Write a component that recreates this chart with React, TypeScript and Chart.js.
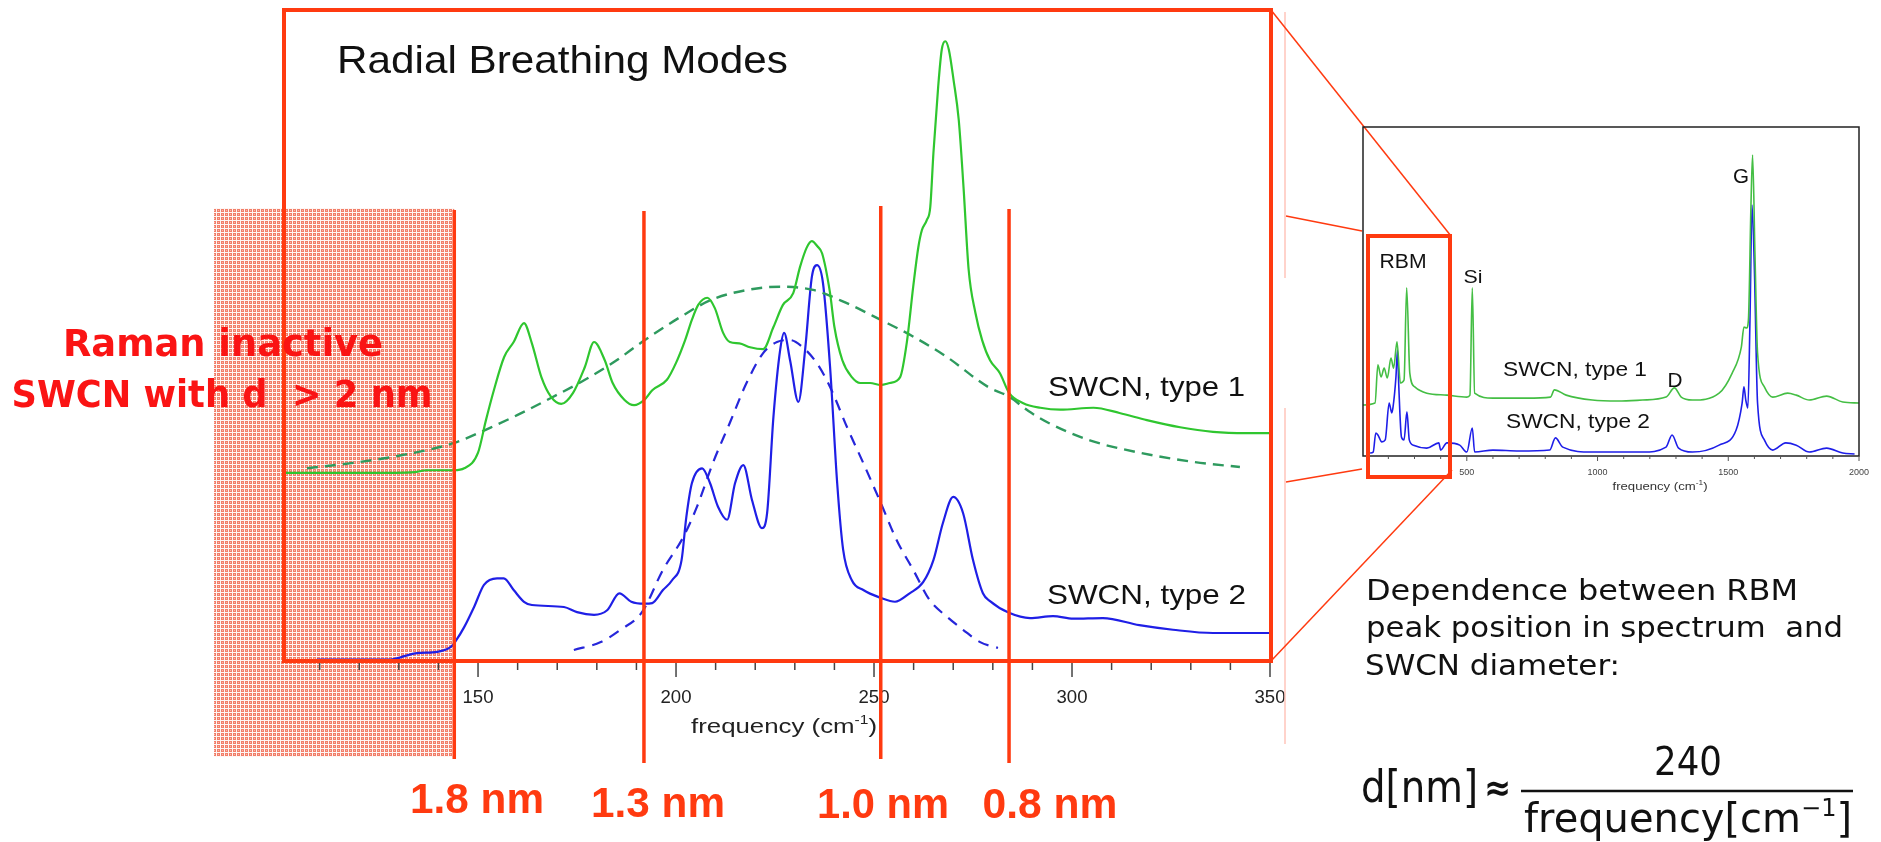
import React, { useEffect, useRef } from "react";
import { Chart, registerables } from "chart.js";

Chart.register(...registerables);

const CANVAS_W = 1881;
const CANVAS_H = 842;

// ---------------- Main panel: Radial Breathing Modes (cm^-1 vs a.u.) ----------------
const rbmType1Freq = [101, 110, 120, 129, 134, 137, 144, 146.5, 150, 152, 154, 156.6, 159, 161.6, 163.6, 166, 168.4, 171, 174, 177, 179.3, 182, 184, 187, 189.4, 192, 194, 197.7, 200, 202.3, 204, 205.6, 207.9, 209.8, 211.9, 213.6, 216, 218.7, 222, 224.6, 227, 229.6, 231.3, 233, 234.3, 235.7, 236.9, 238.9, 240, 242, 244.4, 246.5, 249, 251.7, 254, 256.6, 258.3, 259.9, 261.2, 262.1, 263.3, 264.2, 265, 266.2, 267.1, 268, 268.9, 270.1, 271.4, 272.6, 273.9, 275.6, 277.3, 279.3, 281.8, 284.1, 287.7, 292, 297, 305.4, 312, 318.9, 327.3, 335.6, 344, 350];
const rbmType1Int = [28.9, 28.9, 28.9, 28.9, 29.0, 29.3, 29.3, 29.6, 32.0, 37.0, 41.6, 46.7, 49.0, 51.9, 48.8, 43.6, 40.6, 39.5, 41.2, 45.2, 49.0, 46.2, 42.7, 40.1, 39.3, 40.1, 41.6, 43.2, 45.8, 49.3, 52.4, 54.7, 55.8, 54.2, 50.4, 49.0, 48.8, 48.2, 47.9, 51.3, 54.7, 56.5, 60.5, 63.5, 64.5, 63.7, 62.6, 56.5, 51.3, 46.2, 43.6, 42.7, 42.7, 42.4, 42.7, 43.6, 49.0, 57.5, 63.6, 66.2, 67.7, 69.7, 78.0, 88.2, 93.9, 95.2, 93.9, 89.2, 83.1, 72.8, 60.1, 53.5, 49.3, 46.2, 44.2, 41.2, 39.6, 38.9, 38.6, 38.9, 38.1, 37.0, 35.9, 35.2, 35.0, 35.0];

const rbmType1FitFreq = [106.8, 118, 130.6, 144, 153.3, 160, 168.4, 177, 185, 191.4, 201, 209, 218, 226.3, 234.6, 243, 251.7, 260, 268.4, 278.8, 284.1, 289, 294, 304.5, 317, 330.5, 342.4];
const rbmType1FitInt = [29.6, 30.4, 31.6, 33.5, 35.9, 37.8, 40.4, 43.2, 46.2, 49.0, 52.8, 55.5, 57.0, 57.5, 57.0, 55.0, 52.4, 49.8, 46.7, 42.1, 40.6, 38.4, 36.6, 33.9, 32.0, 30.6, 29.8];

const rbmType2Freq = [109.3, 128, 130.6, 134.6, 139.7, 143.2, 144.5, 146.5, 149, 151.5, 154.8, 156.5, 159, 161.6, 163.6, 171.7, 175, 179.3, 182.6, 185.7, 188.7, 192, 194, 196.7, 199, 201.4, 202.6, 204, 206.6, 208.6, 210.6, 212.9, 214.9, 217, 219.2, 221.7, 223, 224.6, 226.3, 227.3, 228.8, 230.9, 232.6, 234.3, 235.6, 237.1, 238.9, 240.7, 242.2, 244.4, 247.3, 251.7, 255.3, 259, 262.4, 265, 267.4, 270, 272.5, 275, 277.5, 279.3, 284.1, 289.4, 295.2, 300.3, 307.8, 317, 325.5, 335.6, 350];
const rbmType2Int = [0.2, 0.2, 0.6, 1.2, 1.4, 2.2, 3.2, 5.2, 8.3, 11.7, 12.7, 12.7, 10.9, 9.1, 8.6, 8.3, 7.5, 7.1, 7.8, 10.4, 9.1, 8.8, 8.9, 10.9, 12.4, 15.5, 22.1, 27.3, 29.6, 27.3, 23.7, 21.7, 27.3, 30.1, 24.7, 20.4, 22.7, 37.5, 47.8, 50.4, 46.2, 39.8, 47.8, 59.0, 60.8, 58.1, 45.2, 27.3, 17.1, 12.4, 10.9, 9.7, 9.1, 10.4, 12.1, 15.5, 21.2, 25.2, 22.7, 15.5, 10.4, 9.2, 7.4, 6.6, 6.9, 6.5, 6.6, 5.5, 4.8, 4.3, 4.3];

const rbmType2FitFreq = [174.2, 181, 186, 191.4, 196.7, 201.8, 205.3, 209.3, 213.6, 217.8, 222, 225.5, 228.8, 232, 235.5, 238.9, 243.2, 247.3, 251.7, 255.7, 259.9, 264, 268.4, 272.5, 276.8, 281.3];
const rbmType2FitInt = [1.7, 2.9, 4.8, 7.5, 14.0, 19.0, 23.7, 30.4, 36.6, 42.7, 47.3, 49.0, 49.3, 48.2, 45.8, 42.1, 35.9, 30.4, 24.3, 18.6, 14.0, 9.4, 6.8, 4.8, 2.9, 2.0];

const rbmMajorTicks = [150, 200, 250, 300, 350];
const rbmMinorTicks = [110, 120, 130, 140, 160, 170, 180, 190, 210, 220, 230, 240, 260, 270, 280, 290, 310, 320, 330, 340];
const diameterLineFreq = [144, 191.9, 251.7, 284.1];
const diameterLabels = ["1.8 nm", "1.3 nm", "1.0 nm", "0.8 nm"];
const inactiveLimitFreq = 144;

// ---------------- Inset: full spectrum ----------------
const fullType1Freq = [103, 149, 160, 172, 184, 196, 210, 220, 233, 246, 260, 270, 282, 301, 347, 424, 500, 512, 521, 530, 600, 728, 820, 835, 880, 980, 1080, 1172, 1262, 1294, 1320, 1363, 1465, 1515, 1550, 1560, 1570, 1577, 1587, 1593, 1602, 1612, 1638, 1670, 1727, 1760, 1810, 1876, 1938, 2000];
const fullType1Int = [15.5, 16.1, 27.7, 24.0, 26.7, 23.7, 29.8, 26.7, 34.7, 22.2, 23.1, 51.1, 25.2, 21.0, 19.1, 18.5, 17.9, 18.5, 51.1, 19.1, 17.6, 17.6, 17.9, 20.1, 18.5, 17.0, 16.7, 17.0, 17.9, 20.7, 17.9, 17.0, 19.1, 25.2, 33.1, 39.2, 38.9, 41.3, 76.9, 91.5, 61.7, 31.3, 21.0, 17.9, 19.1, 18.5, 17.0, 18.2, 16.4, 16.1];

const fullType2Freq = [130, 142, 152, 160, 175, 188, 203, 213, 218, 229, 235, 240, 250, 260, 271, 280, 296, 347, 393, 400, 424, 473, 500, 521, 530, 600, 700, 817, 839, 867, 980, 1172, 1262, 1285, 1310, 1363, 1465, 1530, 1553, 1560, 1567, 1575, 1583, 1591, 1600, 1612, 1638, 1670, 1720, 1760, 1810, 1876, 1938, 1983];
const fullType2Int = [0.9, 1.2, 7.0, 6.4, 4.3, 4.9, 16.1, 13.1, 14.9, 24.0, 32.2, 21.0, 5.8, 4.9, 13.4, 4.9, 3.3, 2.4, 4.0, 1.8, 4.0, 3.3, 1.2, 8.5, 1.2, 1.8, 1.5, 1.8, 5.5, 2.7, 1.2, 1.2, 2.7, 6.4, 2.4, 1.2, 3.3, 7.9, 16.1, 21.0, 17.0, 14.6, 41.3, 76.3, 56.5, 16.1, 4.9, 1.8, 4.0, 3.3, 1.2, 2.4, 0.9, 0.6];

const fullMajorTicks = [500, 1000, 1500, 2000];
const fullMinorTicks = [200, 300, 400, 600, 700, 800, 900, 1100, 1200, 1300, 1400, 1600, 1700, 1800, 1900];

// ---------------- helpers ----------------
const SANS = '"Liberation Sans", Arial, Helvetica, sans-serif';
const GEO = '"DejaVu Sans", "Noto Sans", sans-serif';
const RED = "#FF3A10";

const toPts = (xs: number[], ys: number[]) => xs.map((x, i) => ({ x, y: ys[i] }));

function fitText(
  ctx: CanvasRenderingContext2D,
  text: string,
  x: number,
  y: number,
  font: string,
  width: number | null,
  color: string,
  align: "left" | "center" = "left"
) {
  ctx.save();
  ctx.font = font;
  ctx.fillStyle = color;
  ctx.textBaseline = "alphabetic";
  ctx.textAlign = "left";
  const w = ctx.measureText(text).width;
  const s = width ? width / w : 1;
  const x0 = align === "center" ? x - (w * s) / 2 : x;
  ctx.translate(x0, y);
  ctx.scale(s, 1);
  ctx.fillText(text, 0, 0);
  ctx.restore();
}

function supText(
  ctx: CanvasRenderingContext2D,
  x: number,
  baseline: number,
  family: string,
  size: number,
  main: string,
  sup: string,
  tail: string,
  targetW: number,
  align: "left" | "center",
  color: string,
  raise = 0.4
) {
  ctx.save();
  ctx.fillStyle = color;
  ctx.textBaseline = "alphabetic";
  ctx.textAlign = "left";
  const f1 = `${size}px ${family}`;
  const f2 = `${Math.round(size * 0.6)}px ${family}`;
  ctx.font = f1;
  const w1 = ctx.measureText(main).width;
  const w3 = ctx.measureText(tail).width;
  ctx.font = f2;
  const w2 = ctx.measureText(sup).width;
  const total = w1 + w2 + w3;
  const s = targetW / total;
  const x0 = align === "center" ? x - (total * s) / 2 : x;
  ctx.translate(x0, baseline);
  ctx.scale(s, 1);
  ctx.font = f1;
  ctx.fillText(main, 0, 0);
  ctx.font = f2;
  ctx.fillText(sup, w1, -size * raise);
  ctx.font = f1;
  ctx.fillText(tail, w1 + w2, 0);
  ctx.restore();
}

function line(ctx: CanvasRenderingContext2D, x1: number, y1: number, x2: number, y2: number, color: string, w: number) {
  ctx.save();
  ctx.strokeStyle = color;
  ctx.lineWidth = w;
  ctx.beginPath();
  ctx.moveTo(x1, y1);
  ctx.lineTo(x2, y2);
  ctx.stroke();
  ctx.restore();
}

function makeHatch(ctx: CanvasRenderingContext2D) {
  const c = document.createElement("canvas");
  c.width = 4;
  c.height = 4;
  const g = c.getContext("2d")!;
  g.fillStyle = "#F27E68";
  g.fillRect(0, 0, 4, 4);
  g.fillStyle = "rgba(255,255,255,0.92)";
  g.fillRect(0, 0, 4, 1);
  g.fillRect(0, 1, 1, 3);
  g.fillStyle = "rgba(255,255,255,0.45)";
  g.fillRect(2, 2, 1, 1);
  g.fillRect(2, 0, 1, 1);
  return ctx.createPattern(c, "repeat")!;
}

// ---------------- plugins ----------------
const mainDecor = {
  id: "mainDecor",
  beforeDatasetsDraw(chart: any) {
    const ctx: CanvasRenderingContext2D = chart.ctx;
    const xs = chart.scales.x;
    const right = xs.getPixelForValue(inactiveLimitFreq);
    ctx.save();
    ctx.fillStyle = makeHatch(ctx);
    ctx.fillRect(214, 208, right - 214, 757 - 208);
    ctx.restore();
  },
  afterDraw(chart: any) {
    const ctx: CanvasRenderingContext2D = chart.ctx;
    const xs = chart.scales.x;
    const area = chart.chartArea;

    // title + series labels
    fitText(ctx, "Radial Breathing Modes", 337, 73, `39px ${SANS}`, 451, "#111");
    fitText(ctx, "SWCN, type 1", 1048, 396, `28px ${SANS}`, 197, "#111");
    fitText(ctx, "SWCN, type 2", 1047, 604, `28px ${SANS}`, 199, "#111");

    // x axis ticks
    ctx.save();
    ctx.strokeStyle = "#444";
    ctx.lineWidth = 1.5;
    rbmMinorTicks.forEach((v) => {
      const px = xs.getPixelForValue(v);
      ctx.beginPath();
      ctx.moveTo(px, area.bottom + 1);
      ctx.lineTo(px, area.bottom + 9);
      ctx.stroke();
    });
    rbmMajorTicks.forEach((v) => {
      const px = xs.getPixelForValue(v);
      ctx.beginPath();
      ctx.moveTo(px, area.bottom + 1);
      ctx.lineTo(px, area.bottom + 16);
      ctx.stroke();
    });
    ctx.restore();
    rbmMajorTicks.forEach((v) => {
      const px = xs.getPixelForValue(v);
      fitText(ctx, String(v), px, 703, `18px ${SANS}`, 31, "#222", "center");
    });
    supText(ctx, 784, 733, SANS, 20, "frequency (cm", "-1", ")", 186, "center", "#222", 0.45);

    // diameter marker lines
    const tops = [210, 211, 206, 209];
    const bottoms = [759, 763, 759, 763];
    diameterLineFreq.forEach((f, i) => {
      const px = xs.getPixelForValue(f);
      line(ctx, px, tops[i], px, bottoms[i], RED, 3.5);
    });

    // red frame
    ctx.save();
    ctx.strokeStyle = RED;
    ctx.lineWidth = 4;
    ctx.strokeRect(area.left, area.top, area.right - area.left + 1, area.bottom - area.top);
    ctx.restore();

    // diameter labels
    const lx = [477, 658, 883, 1050];
    const lb = [813, 817, 818, 818];
    const lw = [134, 134, 132, 135];
    diameterLabels.forEach((t, i) => {
      fitText(ctx, t, lx[i], lb[i], `bold 42px ${SANS}`, lw[i], RED, "center");
    });

    // inactive region text
    fitText(ctx, "Raman inactive", 223, 356, `bold 37px ${GEO}`, 320, "#FA1414", "center");
    fitText(ctx, "SWCN with d  > 2 nm", 222, 407, `bold 37px ${GEO}`, 421, "#FA1414", "center");

    // faint guide lines and connectors
    line(ctx, 1285, 12, 1285, 278, "#FFC4BA", 1.5);
    line(ctx, 1285, 408, 1285, 744, "#FFC4BA", 1.5);
    line(ctx, 1271, 10, 1451, 236, RED, 1.5);
    line(ctx, 1271, 661, 1452, 470, RED, 1.5);
    line(ctx, 1286, 216, 1362, 231, RED, 1.5);
    line(ctx, 1286, 482, 1362, 469, RED, 1.5);

    // explanation text
    fitText(ctx, "Dependence between RBM", 1366, 600, `28px ${GEO}`, 432, "#111");
    fitText(ctx, "peak position in spectrum  and", 1366, 637, `28px ${GEO}`, 477, "#111");
    fitText(ctx, "SWCN diameter:", 1365, 675, `28px ${GEO}`, 255, "#111");

    // formula
    fitText(ctx, "d[nm]", 1361, 802, `44px ${GEO}`, 117, "#111");
    fitText(ctx, "\u2248", 1484, 800, `bold 36px ${GEO}`, 27, "#111");
    fitText(ctx, "240", 1688, 775, `39px ${GEO}`, 68, "#111", "center");
    line(ctx, 1521, 791, 1853, 791, "#111", 2.5);
    supText(ctx, 1524, 832, GEO, 40, "frequency[cm", "\u22121", "]", 328, "left", "#111", 0.4);
  },
};

const insetDecor = {
  id: "insetDecor",
  afterDraw(chart: any) {
    const ctx: CanvasRenderingContext2D = chart.ctx;
    const xs = chart.scales.x;
    const a = chart.chartArea;
    ctx.save();
    ctx.strokeStyle = "#222";
    ctx.lineWidth = 1.5;
    ctx.strokeRect(a.left, a.top, a.right - a.left, a.bottom - a.top);
    ctx.lineWidth = 1;
    ctx.strokeStyle = "#555";
    fullMinorTicks.forEach((v) => {
      const px = xs.getPixelForValue(v);
      ctx.beginPath();
      ctx.moveTo(px, a.bottom);
      ctx.lineTo(px, a.bottom + 3);
      ctx.stroke();
    });
    fullMajorTicks.forEach((v) => {
      const px = xs.getPixelForValue(v);
      ctx.beginPath();
      ctx.moveTo(px, a.bottom);
      ctx.lineTo(px, a.bottom + 5);
      ctx.stroke();
    });
    ctx.restore();
    fullMajorTicks.forEach((v) => {
      fitText(ctx, String(v), xs.getPixelForValue(v), 475, `9px ${SANS}`, null, "#444", "center");
    });
    supText(ctx, 1660, 490, SANS, 11, "frequency (cm", "-1", ")", 95, "center", "#333", 0.45);

    fitText(ctx, "RBM", 1403, 268, `20px ${SANS}`, 47, "#111", "center");
    fitText(ctx, "Si", 1473, 283, `19px ${SANS}`, 19, "#111", "center");
    fitText(ctx, "SWCN, type 1", 1503, 376, `20px ${SANS}`, 144, "#111");
    fitText(ctx, "SWCN, type 2", 1506, 428, `20px ${SANS}`, 144, "#111");
    fitText(ctx, "D", 1675, 387, `20px ${SANS}`, 15, "#111", "center");
    fitText(ctx, "G", 1741, 183, `21px ${SANS}`, 16, "#111", "center");

    ctx.save();
    ctx.strokeStyle = RED;
    ctx.lineWidth = 4;
    ctx.strokeRect(1368, 236, 82, 241);
    ctx.restore();
  },
};

export default function App() {
  const mainRef = useRef<HTMLCanvasElement>(null);
  const insetRef = useRef<HTMLCanvasElement>(null);

  useEffect(() => {
    const main = new Chart(mainRef.current!, {
      type: "line",
      data: {
        datasets: [
          {
            label: "SWCN, type 1",
            data: toPts(rbmType1Freq, rbmType1Int),
            borderColor: "#2FC62F",
            borderWidth: 2.2,
            pointRadius: 0,
            cubicInterpolationMode: "monotone",
          },
          {
            label: "type 1 envelope",
            data: toPts(rbmType1FitFreq, rbmType1FitInt),
            borderColor: "#2E9A5E",
            borderWidth: 2.4,
            borderDash: [11, 7],
            pointRadius: 0,
            cubicInterpolationMode: "monotone",
          },
          {
            label: "SWCN, type 2",
            data: toPts(rbmType2Freq, rbmType2Int),
            borderColor: "#1F1FE6",
            borderWidth: 2.2,
            pointRadius: 0,
            cubicInterpolationMode: "monotone",
          },
          {
            label: "type 2 envelope",
            data: toPts(rbmType2FitFreq, rbmType2FitInt),
            borderColor: "#2626DA",
            borderWidth: 2.2,
            borderDash: [11, 8],
            pointRadius: 0,
            cubicInterpolationMode: "monotone",
          },
        ],
      },
      options: {
        responsive: false,
        maintainAspectRatio: false,
        animation: false,
        layout: { padding: { left: 284, top: 10, right: 611, bottom: 181 } },
        plugins: { legend: { display: false }, tooltip: { enabled: false } },
        scales: {
          x: { type: "linear", min: 101, max: 350, display: false },
          y: { type: "linear", min: 0, max: 100, display: false },
        },
      },
      plugins: [mainDecor],
    } as any);

    const inset = new Chart(insetRef.current!, {
      type: "line",
      data: {
        datasets: [
          {
            label: "SWCN, type 1",
            data: toPts(fullType1Freq, fullType1Int),
            borderColor: "#44BE44",
            borderWidth: 1.6,
            pointRadius: 0,
            cubicInterpolationMode: "monotone",
          },
          {
            label: "SWCN, type 2",
            data: toPts(fullType2Freq, fullType2Int),
            borderColor: "#1E1EE8",
            borderWidth: 1.6,
            pointRadius: 0,
            cubicInterpolationMode: "monotone",
          },
        ],
      },
      options: {
        responsive: false,
        maintainAspectRatio: false,
        animation: false,
        layout: { padding: { left: 1363, top: 127, right: 22, bottom: 386 } },
        plugins: { legend: { display: false }, tooltip: { enabled: false } },
        scales: {
          x: { type: "linear", min: 103, max: 2000, display: false },
          y: { type: "linear", min: 0, max: 100, display: false },
        },
      },
      plugins: [insetDecor],
    } as any);

    return () => {
      main.destroy();
      inset.destroy();
    };
  }, []);

  const style: React.CSSProperties = { position: "absolute", left: 0, top: 0, width: CANVAS_W, height: CANVAS_H };
  return (
    <>
      <canvas ref={mainRef} width={CANVAS_W} height={CANVAS_H} style={style} />
      <canvas ref={insetRef} width={CANVAS_W} height={CANVAS_H} style={style} />
    </>
  );
}
